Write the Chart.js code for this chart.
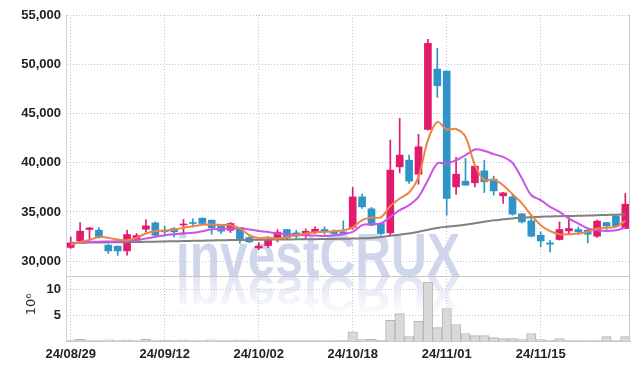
<!DOCTYPE html>
<html>
<head>
<meta charset="utf-8">
<script src="https://cdn.jsdelivr.net/npm/chart.js@4.4.1/dist/chart.umd.min.js"></script>
<style>
  body { margin: 0; background: #fff; }
</style>
</head>
<body>
<canvas id="chart" width="639" height="370"></canvas>
<script>
const dates = [
    "24/08/29", "24/08/30", "24/09/02", "24/09/03", "24/09/04", "24/09/05", "24/09/06", "24/09/09", "24/09/10", "24/09/11",
    "24/09/12", "24/09/13", "24/09/19", "24/09/20", "24/09/23", "24/09/24", "24/09/25", "24/09/26", "24/09/27", "24/09/30",
    "24/10/02", "24/10/04", "24/10/07", "24/10/08", "24/10/10", "24/10/11", "24/10/14", "24/10/15", "24/10/16", "24/10/17",
    "24/10/18", "24/10/21", "24/10/22", "24/10/23", "24/10/24", "24/10/25", "24/10/28", "24/10/29", "24/10/30", "24/10/31",
    "24/11/01", "24/11/04", "24/11/05", "24/11/06", "24/11/07", "24/11/08", "24/11/11", "24/11/12", "24/11/13", "24/11/14",
    "24/11/15", "24/11/18", "24/11/19", "24/11/20", "24/11/21", "24/11/22", "24/11/25", "24/11/26", "24/11/27", "24/11/28"];

const open = [
    31400, 32060, 33220, 33150, 31630, 31530, 31050, 32130, 33250, 33890,
    33150, 33320, 33680, 33930, 34370, 34170, 33630, 33150, 33420, 32410,
    31360, 31590, 32270, 33220, 32880, 32610, 32950, 33220, 33050, 32980,
    33420, 36530, 35320, 33830, 32880, 39580, 40260, 38840, 43380, 49510,
    49310, 37550, 38130, 37960, 39180, 38330, 36640, 36530, 34810, 34100,
    32640, 31860, 32200, 33080, 33220, 33150, 32540, 33930, 34600, 33320];
const high = [
    32470, 33930, 33450, 33420, 31700, 31550, 33150, 32820, 34240, 33990,
    33560, 33420, 34240, 34300, 34400, 34200, 33650, 33930, 33450, 32500,
    31900, 32470, 33220, 33250, 33150, 33280, 33490, 33490, 33200, 34100,
    37490, 36810, 35460, 33900, 42300, 44500, 40770, 42880, 52530, 51620,
    49310, 40540, 40440, 39700, 40260, 38640, 37000, 36810, 34850, 34500,
    32980, 32130, 33990, 34440, 33480, 33320, 34170, 33950, 34620, 36880];
const low = [
    31300, 31900, 31900, 32350, 30780, 30580, 30610, 31950, 32980, 32410,
    32570, 32470, 32740, 33490, 33690, 32740, 32810, 32920, 31800, 31900,
    31190, 31390, 31960, 32300, 32370, 32240, 32810, 32740, 32700, 32700,
    33220, 35350, 33600, 32700, 32640, 38970, 37900, 37820, 43300, 46640,
    34670, 36780, 37720, 37550, 36980, 36700, 35870, 34670, 33900, 32470,
    31450, 30950, 32150, 32740, 32740, 31860, 32410, 33220, 33500, 33300];
const close = [
    31860, 33050, 33380, 32400, 31050, 31050, 32710, 32610, 33590, 32640,
    32980, 32980, 33780, 33830, 33830, 33390, 33050, 33830, 32130, 31960,
    31530, 32240, 32950, 32370, 32540, 33050, 33250, 33050, 32810, 32810,
    36530, 35520, 33660, 32810, 39250, 40770, 38130, 41620, 52120, 47820,
    36370, 38840, 37720, 39650, 38060, 37140, 36940, 34780, 33990, 32540,
    32060, 31730, 33220, 33320, 32980, 32740, 34070, 33590, 33560, 35790];

// moving averages
const ma5 = [
    31650, 31950, 32150, 32470, 32370, 32200, 32130, 32370, 32810, 33080,
    33100, 33220, 33390, 33560, 33700, 33730, 33690, 33660, 33320, 32640,
    32350, 32410, 32300, 32470, 32640, 32810, 32950, 32980, 33050, 33150,
    33420, 34170, 34440, 34450, 35600, 36370, 36980, 38570, 42300, 44160,
    43380, 43420, 42630, 39760, 38230, 38300, 37720, 36810, 35870, 34670,
    33660, 33050, 32740, 32740, 32810, 32980, 33320, 33420, 33490, 34100];
const ma20 = [
    31860, 31900, 31950, 31990, 32010, 32030, 32080, 32130, 32300, 32470,
    32640, 32740, 32810, 32880, 33050, 33250, 33290, 33320, 33320, 33220,
    33080, 32960, 32810, 32740, 32710, 32640, 32610, 32570, 32610, 32740,
    32980, 33660, 33760, 33850, 34500, 35180, 35690, 36530, 38230, 39930,
    39930, 40260, 40770, 41350, 41210, 40870, 40600, 39990, 38400, 36700,
    36200, 35520, 35010, 34330, 33830, 33320, 33150, 33080, 33150, 33420];
const ma60 = [
    31850, 31870, 31890, 31900, 31910, 31920, 31930, 31950, 31970, 31990,
    32010, 32030, 32050, 32070, 32090, 32110, 32130, 32150, 32160, 32170,
    32180, 32190, 32200, 32210, 32220, 32230, 32240, 32250, 32260, 32280,
    32300, 32330, 32370, 32450, 32580, 32700, 32820, 33000, 33200, 33380,
    33500, 33600, 33700, 33850, 34000, 34150, 34250, 34350, 34420, 34480,
    34520, 34550, 34570, 34590, 34610, 34640, 34670, 34700, 34730, 34760];

// volume in millions
const volume = [
    0.1, 0.3, 0.08, 0.1, 0.25, 0.1, 0.25, 0.1, 0.3, 0.1,
    0.2, 0.1, 0.25, 0.08, 0.1, 0.25, 0.1, 0.08, 0.2, 0.08,
    0.1, 0.08, 0.1, 0.08, 0.1, 0.08, 0.1, 0.08, 0.1, 0.15,
    1.8, 0.27, 0.3, 0.12, 4.0, 5.3, 0.85, 3.8, 11.4, 2.6,
    6.3, 3.2, 1.45, 1.05, 1.05, 0.66, 0.47, 0.47, 0.27, 1.45,
    0.27, 0.2, 0.47, 0.1, 0.08, 0.08, 0.08, 0.85, 0.1, 0.85];

const priceTicks = [30000, 35000, 40000, 45000, 50000, 55000];
const volumeTicks = [5, 10];

const UP = '#e31b6d';
const DOWN = '#2f95c9';
var candleColors = open.map((o, i) => close[i] >= o ? UP : DOWN);

var gridColor = '#bcc3da';
var tickFont = { family: 'Liberation Sans', size: 13, weight: 'bold' };

// watermark + pane frame
const framePlugin = {
    id: 'frame',
    beforeDatasetsDraw(chart) {
        const ctx = chart.ctx;
        const sep = chart.scales.y2.top;
        ctx.save();
        ctx.font = 'bold 61px "Liberation Sans"';
        var w = ctx.measureText('investCRUX').width;
        ctx.translate(176, sep);
        ctx.scale(284 / w, 1);
        ctx.fillStyle = '#cfd5ea';
        ctx.fillText('investCRUX', 0, 0);
        ctx.scale(1, -0.85);
        var g = ctx.createLinearGradient(0, 0, 0, -45);
        g.addColorStop(0, 'rgba(207,213,234,0.65)');
        g.addColorStop(1, 'rgba(207,213,234,0.05)');
        ctx.fillStyle = g;
        ctx.fillText('investCRUX', 0, 0);
        ctx.restore();
    },
    afterDatasetsDraw(chart) {
        const ctx = chart.ctx;
        const a = chart.chartArea;
        const sep = Math.round(chart.scales.y2.top) + 0.5;
        ctx.save();
        ctx.strokeStyle = '#c8c8c8';
        ctx.lineWidth = 1;
        ctx.beginPath();
        ctx.moveTo(a.left, sep);
        ctx.lineTo(a.right, sep);
        ctx.moveTo(Math.round(a.right) - 0.5, a.top);
        ctx.lineTo(Math.round(a.right) - 0.5, a.bottom);
        ctx.stroke();
        ctx.restore();
    }
};

new Chart(document.getElementById('chart'), {
    type: 'bar',
    data: {
        labels: dates,
        datasets: [
            {
                type: 'line', data: ma5, yAxisID: 'y', order: 0,
                borderColor: '#ee8346', borderWidth: 2, pointRadius: 0, tension: 0.3
            },
            {
                type: 'line', data: ma20, yAxisID: 'y', order: 1,
                borderColor: '#c954e6', borderWidth: 2, pointRadius: 0, tension: 0.3
            },
            {
                type: 'line', data: ma60, yAxisID: 'y', order: 2,
                borderColor: '#808080', borderWidth: 2, pointRadius: 0, tension: 0.3
            },
            {
                data: open.map((o, i) => [o, close[i]]), yAxisID: 'y', order: 3,
                backgroundColor: candleColors, barThickness: 7, grouped: false
            },
            {
                data: low.map((l, i) => [l, high[i]]), yAxisID: 'y', order: 4,
                backgroundColor: candleColors, barThickness: 1, grouped: false
            },
            {
                data: volume, yAxisID: 'y2', order: 5,
                backgroundColor: '#d9d9d9', borderColor: '#b4b4b4', borderWidth: 1,
                barPercentage: 1, categoryPercentage: 1, grouped: false
            }
        ]
    },
    options: {
        responsive: false,
        animation: false,
        devicePixelRatio: 1,
        layout: { padding: { top: 15, right: 9, left: 0, bottom: 0 } },
        plugins: { legend: { display: false }, tooltip: { enabled: false } },
        scales: {
            x: {
                grid: {
                    offset: false,
                    drawTicks: false,
                    color: c => c.index % 10 === 0 ? gridColor : 'rgba(0,0,0,0)'
                },
                border: { color: '#c8c8c8', dash: [1, 2] },
                ticks: {
                    autoSkip: false, maxRotation: 0, padding: 6,
                    font: tickFont, color: '#222',
                    callback: function (v, i) { return i % 10 === 0 ? this.getLabelForValue(v) : ''; }
                },
                afterFit: s => { s.height = 29; }
            },
            // volume pane listed first so it sits at the bottom of the stack
            y2: {
                position: 'left', stack: 'panes', stackWeight: 65,
                min: 0, max: 12.6,
                ticks: { stepSize: 5, padding: 5, font: tickFont, color: '#222' },
                afterBuildTicks: s => { s.ticks = volumeTicks.map(v => ({ value: v })); },
                grid: { color: gridColor, drawTicks: false },
                border: { color: '#cfd3e0', dash: [1, 2] },
                title: {
                    display: true, text: '  10\u2076', color: '#333',
                    font: { family: 'DejaVu Sans', size: 13 },
                    padding: { top: 24, bottom: 0 }
                },
                afterFit: s => { s.width = 66; }
            },
            y: {
                position: 'left', stack: 'panes', stackWeight: 261,
                min: 28500, max: 55000,
                ticks: {
                    stepSize: 5000, padding: 5, font: tickFont, color: '#222',
                    callback: v => v.toLocaleString('en-US')
                },
                afterBuildTicks: s => { s.ticks = priceTicks.map(v => ({ value: v })); },
                grid: { color: gridColor, drawTicks: false },
                border: { color: '#cfd3e0', dash: [1, 2] },
                afterFit: s => { s.width = 66; }
            }
        }
    },
    plugins: [framePlugin]
});
</script>
</body>
</html>
